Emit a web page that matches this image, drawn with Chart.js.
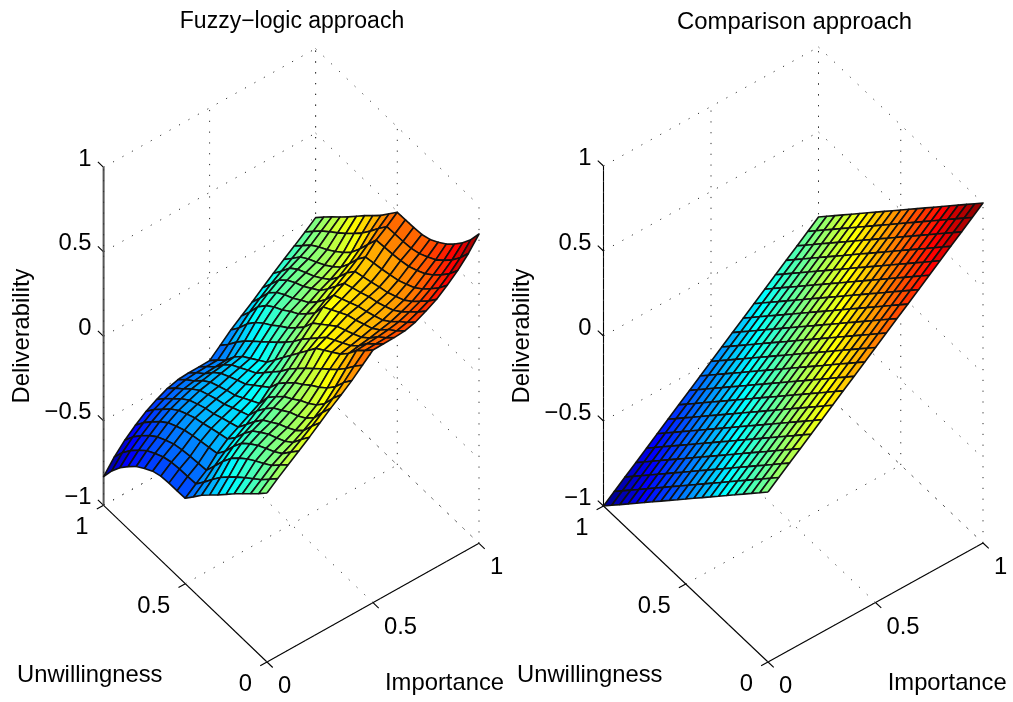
<!DOCTYPE html>
<html>
<head>
<meta charset="utf-8">
<script src="https://cdn.jsdelivr.net/npm/chart.js@4"></script>
<style>
  html, body { margin: 0; padding: 0; background: #fff; }
  canvas { position: absolute; top: 0; }
  #fuzzy { left: 0; }
  #compare { left: 501px; }
</style>
</head>
<body>
<canvas id="fuzzy" width="510" height="702"></canvas>
<canvas id="compare" width="512" height="702"></canvas>
<script>
/* grid of the two surfaces */
const importance = [0,.05,.1,.15,.2,.25,.3,.35,.4,.45,.5,.55,.6,.65,.7,.75,.8,.85,.9,.95,1];
const unwillingness = [0,.05,.1,.15,.2,.25,.3,.35,.4,.45,.5,.55,.6,.65,.7,.75,.8,.85,.9,.95,1];

/* rows run along unwillingness, columns along importance */
const fuzzyDeliverability = [
  [0,.05,.097,.143,.19,.24,.29,.336,.384,.44,.495,.497,.498,.503,.52,.55,.585,.632,.685,.75,.83],
  [-.05,0,.049,.09,.13,.173,.219,.268,.326,.388,.445,.448,.45,.456,.471,.497,.527,.57,.619,.678,.75],
  [-.097,-.049,0,.035,.066,.101,.142,.19,.255,.328,.4,.405,.41,.418,.43,.453,.48,.519,.566,.619,.685],
  [-.143,-.09,-.035,0,.027,.056,.093,.136,.201,.276,.335,.346,.356,.369,.383,.406,.432,.471,.519,.57,.632],
  [-.19,-.13,-.066,-.027,0,.025,.06,.098,.159,.23,.285,.3,.315,.332,.346,.369,.394,.432,.48,.527,.585],
  [-.24,-.173,-.101,-.056,-.025,0,.035,.069,.124,.187,.25,.27,.288,.31,.324,.345,.369,.406,.453,.497,.55],
  [-.29,-.219,-.142,-.093,-.06,-.035,0,.032,.083,.142,.215,.239,.263,.288,.304,.324,.346,.383,.43,.471,.52],
  [-.336,-.268,-.19,-.136,-.098,-.069,-.032,0,.047,.098,.18,.21,.24,.271,.288,.31,.332,.369,.418,.456,.503],
  [-.384,-.326,-.255,-.201,-.159,-.124,-.083,-.047,0,.05,.12,.16,.2,.24,.263,.288,.315,.356,.41,.45,.498],
  [-.44,-.388,-.328,-.276,-.23,-.187,-.142,-.098,-.05,0,.06,.11,.16,.21,.239,.27,.3,.346,.405,.448,.497],
  [-.495,-.445,-.4,-.335,-.285,-.25,-.215,-.18,-.12,-.06,0,.06,.12,.18,.215,.25,.285,.335,.4,.445,.495],
  [-.497,-.448,-.405,-.346,-.3,-.27,-.239,-.21,-.16,-.11,-.06,0,.05,.098,.142,.187,.23,.276,.328,.388,.44],
  [-.498,-.45,-.41,-.356,-.315,-.288,-.263,-.24,-.2,-.16,-.12,-.05,0,.047,.083,.124,.159,.201,.255,.326,.384],
  [-.503,-.456,-.418,-.369,-.332,-.31,-.288,-.271,-.24,-.21,-.18,-.098,-.047,0,.032,.069,.098,.136,.19,.268,.336],
  [-.52,-.471,-.43,-.383,-.346,-.324,-.304,-.288,-.263,-.239,-.215,-.142,-.083,-.032,0,.035,.06,.093,.142,.219,.29],
  [-.55,-.497,-.453,-.406,-.369,-.345,-.324,-.31,-.288,-.27,-.25,-.187,-.124,-.069,-.035,0,.025,.056,.101,.173,.24],
  [-.585,-.527,-.48,-.432,-.394,-.369,-.346,-.332,-.315,-.3,-.285,-.23,-.159,-.098,-.06,-.025,0,.027,.066,.13,.19],
  [-.632,-.57,-.519,-.471,-.432,-.406,-.383,-.369,-.356,-.346,-.335,-.276,-.201,-.136,-.093,-.056,-.027,0,.035,.09,.143],
  [-.685,-.619,-.566,-.519,-.48,-.453,-.43,-.418,-.41,-.405,-.4,-.328,-.255,-.19,-.142,-.101,-.066,-.035,0,.049,.097],
  [-.75,-.678,-.619,-.57,-.527,-.497,-.471,-.456,-.45,-.448,-.445,-.388,-.326,-.268,-.219,-.173,-.13,-.09,-.049,0,.05],
  [-.83,-.75,-.685,-.632,-.585,-.55,-.52,-.503,-.498,-.497,-.495,-.44,-.384,-.336,-.29,-.24,-.19,-.143,-.097,-.05,0],
];

const comparisonDeliverability = [
  [0,.05,.1,.15,.2,.25,.3,.35,.4,.45,.5,.55,.6,.65,.7,.75,.8,.85,.9,.95,1],
  [-.05,0,.05,.1,.15,.2,.25,.3,.35,.4,.45,.5,.55,.6,.65,.7,.75,.8,.85,.9,.95],
  [-.1,-.05,0,.05,.1,.15,.2,.25,.3,.35,.4,.45,.5,.55,.6,.65,.7,.75,.8,.85,.9],
  [-.15,-.1,-.05,0,.05,.1,.15,.2,.25,.3,.35,.4,.45,.5,.55,.6,.65,.7,.75,.8,.85],
  [-.2,-.15,-.1,-.05,0,.05,.1,.15,.2,.25,.3,.35,.4,.45,.5,.55,.6,.65,.7,.75,.8],
  [-.25,-.2,-.15,-.1,-.05,0,.05,.1,.15,.2,.25,.3,.35,.4,.45,.5,.55,.6,.65,.7,.75],
  [-.3,-.25,-.2,-.15,-.1,-.05,0,.05,.1,.15,.2,.25,.3,.35,.4,.45,.5,.55,.6,.65,.7],
  [-.35,-.3,-.25,-.2,-.15,-.1,-.05,0,.05,.1,.15,.2,.25,.3,.35,.4,.45,.5,.55,.6,.65],
  [-.4,-.35,-.3,-.25,-.2,-.15,-.1,-.05,0,.05,.1,.15,.2,.25,.3,.35,.4,.45,.5,.55,.6],
  [-.45,-.4,-.35,-.3,-.25,-.2,-.15,-.1,-.05,0,.05,.1,.15,.2,.25,.3,.35,.4,.45,.5,.55],
  [-.5,-.45,-.4,-.35,-.3,-.25,-.2,-.15,-.1,-.05,0,.05,.1,.15,.2,.25,.3,.35,.4,.45,.5],
  [-.55,-.5,-.45,-.4,-.35,-.3,-.25,-.2,-.15,-.1,-.05,0,.05,.1,.15,.2,.25,.3,.35,.4,.45],
  [-.6,-.55,-.5,-.45,-.4,-.35,-.3,-.25,-.2,-.15,-.1,-.05,0,.05,.1,.15,.2,.25,.3,.35,.4],
  [-.65,-.6,-.55,-.5,-.45,-.4,-.35,-.3,-.25,-.2,-.15,-.1,-.05,0,.05,.1,.15,.2,.25,.3,.35],
  [-.7,-.65,-.6,-.55,-.5,-.45,-.4,-.35,-.3,-.25,-.2,-.15,-.1,-.05,0,.05,.1,.15,.2,.25,.3],
  [-.75,-.7,-.65,-.6,-.55,-.5,-.45,-.4,-.35,-.3,-.25,-.2,-.15,-.1,-.05,0,.05,.1,.15,.2,.25],
  [-.8,-.75,-.7,-.65,-.6,-.55,-.5,-.45,-.4,-.35,-.3,-.25,-.2,-.15,-.1,-.05,0,.05,.1,.15,.2],
  [-.85,-.8,-.75,-.7,-.65,-.6,-.55,-.5,-.45,-.4,-.35,-.3,-.25,-.2,-.15,-.1,-.05,0,.05,.1,.15],
  [-.9,-.85,-.8,-.75,-.7,-.65,-.6,-.55,-.5,-.45,-.4,-.35,-.3,-.25,-.2,-.15,-.1,-.05,0,.05,.1],
  [-.95,-.9,-.85,-.8,-.75,-.7,-.65,-.6,-.55,-.5,-.45,-.4,-.35,-.3,-.25,-.2,-.15,-.1,-.05,0,.05],
  [-1,-.95,-.9,-.85,-.8,-.75,-.7,-.65,-.6,-.55,-.5,-.45,-.4,-.35,-.3,-.25,-.2,-.15,-.1,-.05,0],
];

/* tick values and their labels */
const planeTicks = [0, 0.5, 1];
const planeTickLabels = ["0", "0.5", "1"];
const heightTicks = [-1, -0.5, 0, 0.5, 1];
const heightTickLabels = ["\u22121", "\u22120.5", "0", "0.5", "1"];

/* view of each box: what one unit of an axis is worth on the two chart scales */
const views = {
  fuzzy: { u: [212, 118.7], v: [-163.4, 156.7], z: 169 },
  compare: { u: [215, 119], v: [-164.5, 156], z: 170 },
};

const fontOf = (size) => `${size}px "Liberation Sans", Arial, sans-serif`;

const project = (view, u, v, z) => ({
  x: view.u[0] * u + view.v[0] * v,
  y: view.u[1] * u + view.v[1] * v + view.z * (z + 1),
});

const jet = (value, limit) => {
  const t = (value + limit) / (2 * limit);
  const band = (a, b) => Math.max(0, Math.min(1, Math.min(4 * t + a, -4 * t + b)));
  const r = Math.round(band(-1.5, 4.5) * 255);
  const g = Math.round(band(-0.5, 3.5) * 255);
  const b = Math.round(band(0.5, 2.5) * 255);
  return `rgb(${r},${g},${b})`;
};

const lineSet = (points, style) => ({
  data: points,
  showLine: true,
  fill: false,
  pointRadius: 0,
  tension: 0,
  clip: false,
  order: 2000,
  borderCapStyle: "butt",
  ...style,
});

const surfaceSets = (view, heights, limit) => {
  const sets = [];
  for (let j = 0; j < unwillingness.length - 1; j++) {
    for (let i = 0; i < importance.length - 1; i++) {
      const corner = (a, b) => project(view, importance[a], unwillingness[b], heights[b][a]);
      sets.push(
        lineSet(
          [corner(i, j), corner(i + 1, j), corner(i + 1, j + 1), corner(i, j + 1), corner(i, j)],
          {
            fill: "shape",
            backgroundColor: jet(heights[j][i], limit),
            borderColor: "#111",
            borderWidth: 1.6,
            borderJoinStyle: "round",
            order: i + j, // lower order is painted last, the near corner has to win
          }
        )
      );
    }
  }
  return sets;
};

const boxSets = (view, axisStyle) => {
  const dots = { borderColor: "#333", borderWidth: 1, borderDash: [1.2, 9.6] };
  const sets = [];
  // back walls
  heightTicks.forEach((z) => {
    sets.push(lineSet([project(view, 0, 1, z), project(view, 1, 1, z)], dots));
    sets.push(lineSet([project(view, 1, 1, z), project(view, 1, 0, z)], dots));
  });
  planeTicks.forEach((t) => {
    sets.push(lineSet([project(view, t, 1, -1), project(view, t, 1, 1)], dots));
    sets.push(lineSet([project(view, 1, t, -1), project(view, 1, t, 1)], dots));
    // floor
    sets.push(lineSet([project(view, t, 0, -1), project(view, t, 1, -1)], dots));
    sets.push(lineSet([project(view, 0, t, -1), project(view, 1, t, -1)], dots));
  });
  // solid axes
  const solid = { borderColor: "#000", borderWidth: 1.1 };
  sets.push(lineSet([project(view, 0, 0, -1), project(view, 1, 0, -1)], solid));
  sets.push(lineSet([project(view, 0, 0, -1), project(view, 0, 1, -1)], solid));
  sets.push(lineSet([project(view, 0, 1, -1), project(view, 0, 1, 1)], axisStyle));
  // ticks
  planeTicks.forEach((t) => {
    sets.push(lineSet([project(view, t, 0, -1), project(view, t, -0.035, -1)], solid));
    sets.push(lineSet([project(view, 0, t, -1), project(view, -0.032, t, -1)], solid));
  });
  heightTicks.forEach((z) => {
    sets.push(lineSet([project(view, 0, 1, z), project(view, 0, 1.035, z)], solid));
  });
  return sets;
};

/* titles, axis names and tick labels, anchored on the chart's scales */
const panelText = {
  id: "panelText",
  afterDraw(chart, args, opts) {
    const { ctx, scales: { x, y } } = chart;
    const view = views[chart.canvas.id];
    const put = (text, p, dx, dy, align) => {
      ctx.textAlign = align;
      ctx.fillText(text, x.getPixelForValue(p.x) + dx, y.getPixelForValue(p.y) + dy);
    };
    ctx.save();
    ctx.font = fontOf(23.8);
    ctx.fillStyle = "#000";
    ctx.textBaseline = "middle";

    planeTicks.forEach((t, n) => {
      put(planeTickLabels[n], project(view, t, 0, -1), 11, 24.5, "left");
      put(planeTickLabels[n], project(view, 0, t, -1), -15, 22.5, "right");
    });
    heightTicks.forEach((z, n) => {
      put(heightTickLabels[n], project(view, 0, 1, z), -12, -8, "right");
    });

    ctx.textAlign = "left";
    ctx.fillText("Unwillingness", opts.unwillingAt[0], opts.unwillingAt[1]);
    ctx.fillText("Importance", opts.importanceAt[0], opts.importanceAt[1]);

    ctx.textAlign = "center";
    ctx.font = fontOf(opts.titleSize);
    ctx.fillText(opts.title, opts.titleAt[0], opts.titleAt[1]);

    ctx.font = fontOf(23.8);
    ctx.translate(opts.deliverAt[0], opts.deliverAt[1]);
    ctx.rotate(-Math.PI / 2);
    ctx.fillText("Deliverability", 0, 0);
    ctx.restore();
  },
};

const drawPanel = (id, heights, limit, axisStyle, text) => {
  const canvas = document.getElementById(id);
  const view = views[id];
  return new Chart(canvas, {
    type: "scatter",
    data: { datasets: [...surfaceSets(view, heights, limit), ...boxSets(view, axisStyle)] },
    options: {
      responsive: false,
      animation: false,
      events: [],
      layout: { padding: 0 },
      plugins: {
        legend: { display: false },
        tooltip: { enabled: false },
        panelText: text,
      },
      scales: {
        x: { type: "linear", display: false, min: -267, max: canvas.width - 267 },
        y: { type: "linear", display: false, min: -40, max: 662 },
      },
    },
    plugins: [panelText],
  });
};

drawPanel("fuzzy", fuzzyDeliverability, 0.83, { borderColor: "#555", borderWidth: 2 }, {
  title: "Fuzzy\u2212logic approach",
  titleSize: 23,
  titleAt: [292, 22],
  unwillingAt: [17, 675],
  importanceAt: [385, 683],
  deliverAt: [22, 336],
});

drawPanel("compare", comparisonDeliverability, 1, { borderColor: "#000", borderWidth: 1.1 }, {
  title: "Comparison approach",
  titleSize: 23.9,
  titleAt: [293.5, 22],
  unwillingAt: [16, 675],
  importanceAt: [386.7, 683],
  deliverAt: [21, 336],
});
</script>
</body>
</html>
